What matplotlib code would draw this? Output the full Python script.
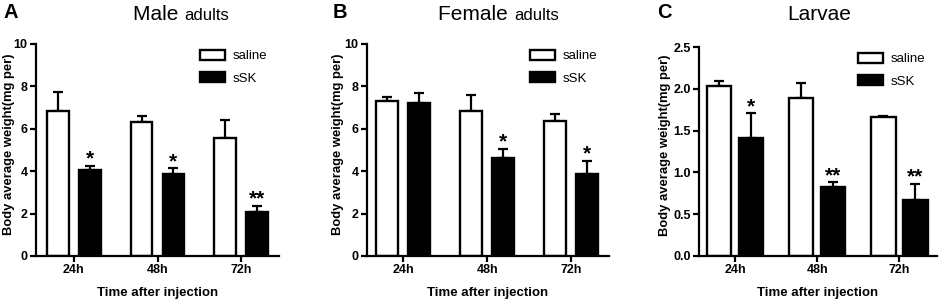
import numpy as np
import matplotlib
matplotlib.use('Agg')
import matplotlib.pyplot as plt
from matplotlib.patches import Patch

plt.rcParams['font.family'] = ['Liberation Sans', 'DejaVu Sans']

times = ['24h', '48h', '72h']

# male adults
male_saline = [6.85, 6.30, 5.55]
male_saline_err = [0.90, 0.30, 0.86]
male_ssk = [4.06, 3.89, 2.06]
male_ssk_err = [0.20, 0.25, 0.32]
male_stars = ['*', '*', '**']

# female adults
female_saline = [7.32, 6.85, 6.39]
female_saline_err = [0.18, 0.76, 0.33]
female_ssk = [7.23, 4.61, 3.86]
female_ssk_err = [0.44, 0.45, 0.64]
female_stars = ['', '*', '*']

# larvae
larvae_saline = [2.03, 1.89, 1.66]
larvae_saline_err = [0.06, 0.18, 0.02]
larvae_ssk = [1.415, 0.82, 0.67]
larvae_ssk_err = [0.29, 0.06, 0.19]
larvae_stars = ['*', '**', '**']

W, H = 941, 305
fig = plt.figure(figsize=(W/100, H/100), dpi=100)

def px_axes(x0, x1, ytop, ybot):
    return fig.add_axes([x0/W, 1-ybot/H, (x1-x0)/W, (ybot-ytop)/H])

panels = [
    dict(box=(36, 279, 44, 256), xlim=(-0.45, 2.45), ylim=10, yt=[0, 2, 4, 6, 8, 10], ytl=['0', '2', '4', '6', '8', '10'],
         s=male_saline, se=male_saline_err, k=male_ssk, ke=male_ssk_err, st=male_stars,
         w=0.26, off=0.19, t1='Male', t2='adults', tx=184, letter='A', lx=3, ylx=9),
    dict(box=(367, 609, 44, 256), xlim=(-0.43, 2.45), ylim=10, yt=[0, 2, 4, 6, 8, 10], ytl=['0', '2', '4', '6', '8', '10'],
         s=female_saline, se=female_saline_err, k=female_ssk, ke=female_ssk_err, st=female_stars,
         w=0.26, off=0.19, t1='Female', t2='adults', tx=514, letter='B', lx=333, ylx=338),
    dict(box=(699, 937, 47, 256), xlim=(-0.44, 2.46), ylim=2.5, yt=[0, 0.5, 1.0, 1.5, 2.0, 2.5], ytl=['0.0', '0.5', '1.0', '1.5', '2.0', '2.5'],
         s=larvae_saline, se=larvae_saline_err, k=larvae_ssk, ke=larvae_ssk_err, st=larvae_stars,
         w=0.30, off=0.195, t1='Larvae', t2='', tx=819, letter='C', lx=657, ylx=665),
]

for p in panels:
    ax = px_axes(*p['box'])
    x = np.arange(len(times))
    ax.bar(x - p['off'], p['s'], p['w'], color='white', edgecolor='black', linewidth=1.7, zorder=2)
    ax.bar(x + p['off'], p['k'], p['w'], color='black', edgecolor='black', linewidth=1.7, zorder=2)
    ax.errorbar(x - p['off'], p['s'], yerr=[np.zeros(3), p['se']], fmt='none', ecolor='black',
                elinewidth=1.6, capsize=3.8, capthick=1.6, zorder=1)
    ax.errorbar(x + p['off'], p['k'], yerr=[np.zeros(3), p['ke']], fmt='none', ecolor='black',
                elinewidth=1.6, capsize=3.8, capthick=1.6, zorder=1)
    for i in range(3):
        if p['st'][i]:
            ax.annotate(p['st'][i], (x[i] + p['off'], p['k'][i] + p['ke'][i]), xytext=(0, -2),
                        textcoords='offset points', ha='center', va='bottom', fontsize=15,
                        fontweight='bold')
    ax.set_xlim(*p['xlim'])
    ax.set_ylim(0, p['ylim'])
    ax.set_xticks(x)
    ax.set_xticklabels(times, fontsize=9, fontweight='bold')
    ax.set_yticks(p['yt'])
    ax.set_yticklabels(p['ytl'], fontsize=9, fontweight='bold')
    ax.spines['top'].set_visible(False)
    ax.spines['right'].set_visible(False)
    ax.spines['left'].set_linewidth(1.6)
    ax.spines['bottom'].set_linewidth(1.6)
    ax.tick_params(width=1.6, length=4, pad=2)
    ax.set_xlabel('Time after injection', fontsize=9.5, fontweight='bold', labelpad=8)
    handles = [Patch(facecolor='white', edgecolor='black', linewidth=1.7),
               Patch(facecolor='black', edgecolor='black', linewidth=1.7)]
    ax.legend(handles, ['saline', 'sSK'], loc='upper right', bbox_to_anchor=(1.0, 1.03), frameon=False,
              fontsize=9.5, handlelength=1.9, handleheight=0.8, labelspacing=0.75, handletextpad=0.6)
    # y label
    yc = (p['box'][2] + p['box'][3]) / 2
    fig.text(p['ylx']/W, 1 - (yc - 6)/H, 'Body average weight(mg per)', rotation=90, ha='center', va='center',
             fontsize=9.4, fontweight='bold')
    # panel letter
    fig.text(p['lx']/W, 1 - 13/H, p['letter'], ha='left', va='center', fontsize=14.5, fontweight='bold')
    # title
    if p['t2']:
        fig.text(p['tx']/W, 1 - 15/H, p['t1'] + ' ', ha='right', va='center', fontsize=15)
        fig.text(p['tx']/W, 1 - 16/H, p['t2'], ha='left', va='center', fontsize=12)
    else:
        fig.text(p['tx']/W, 1 - 15/H, p['t1'], ha='center', va='center', fontsize=15)

fig.savefig('out.png', dpi=100)
